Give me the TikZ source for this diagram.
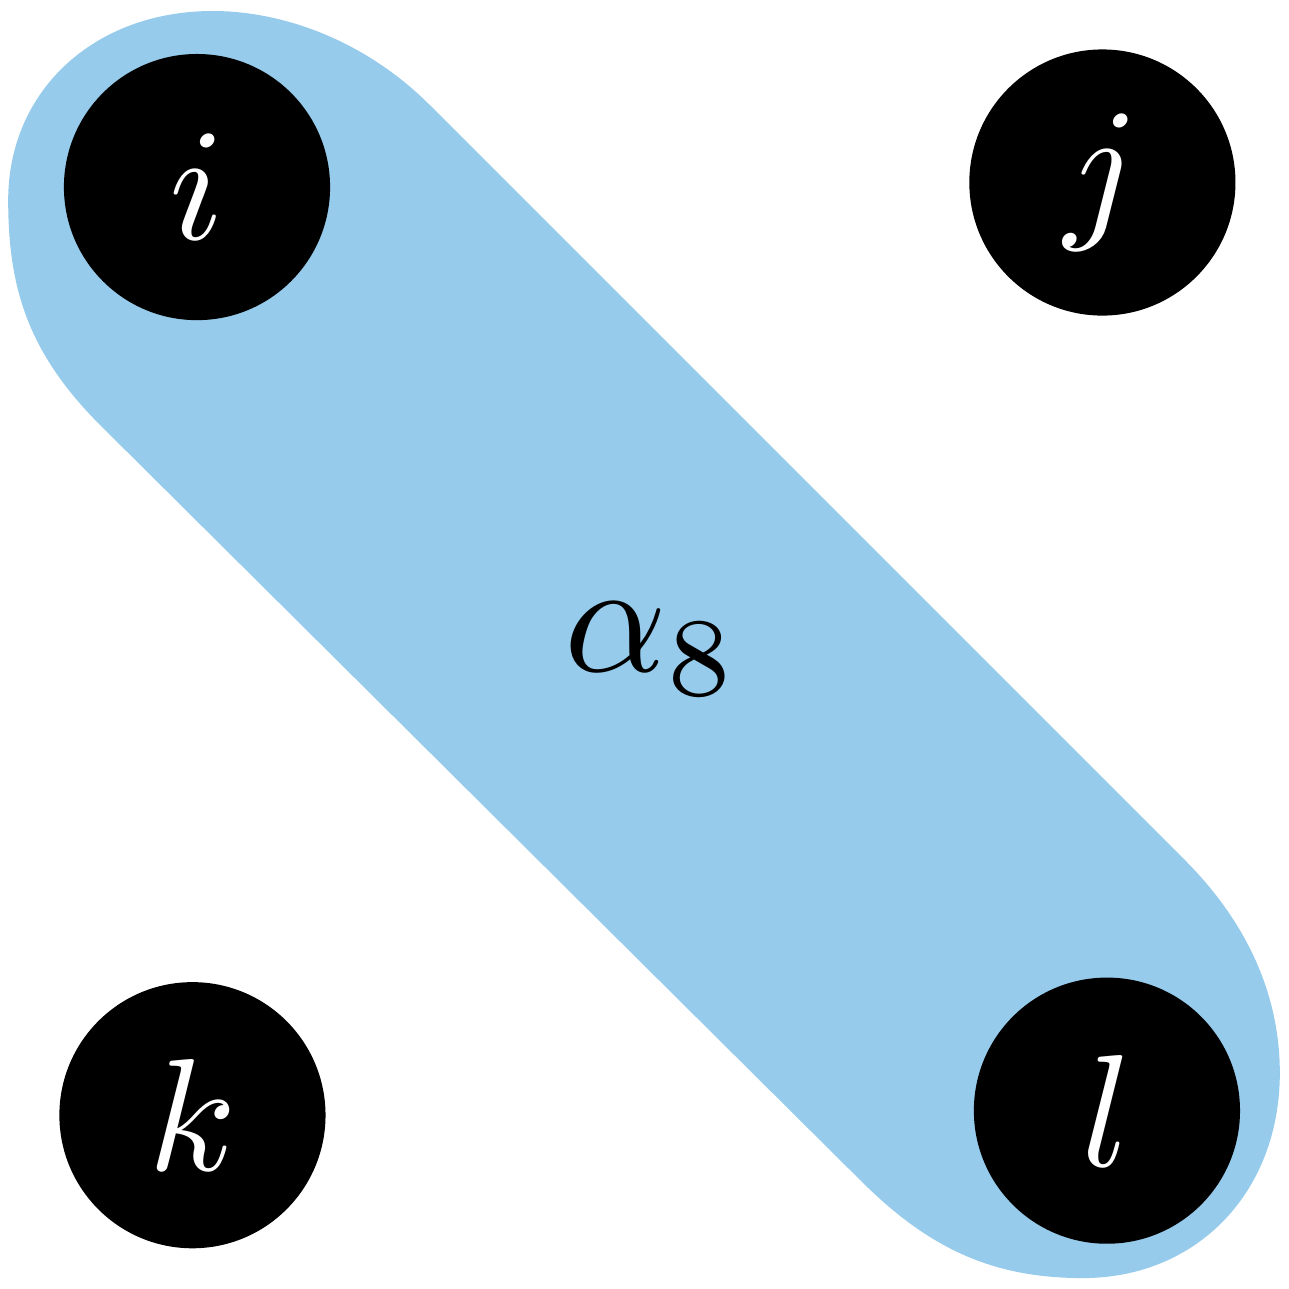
\documentclass[tikz,border=0pt]{standalone}
\usepackage{tikz}
\usetikzlibrary{arrows,shapes.geometric,calc}
\definecolor{hyperblue}{RGB}{150,203,235}
\tikzstyle{vertex} = [circle,fill=black,text=white,inner sep=0pt,minimum size=0.585cm]
\tikzstyle{edgelabel} = [align=center,text centered]

\begin{document}
\begin{tikzpicture}[node distance=2cm]
				\useasboundingbox (-0.433,0.411) rectangle (2.400,-2.422);
				% hyperedge around i and l
				\fill [hyperblue] (0.512,0.180) -- (2.171,-1.479)
					.. controls (2.301,-1.609) and (2.380,-1.767) .. (2.380,-1.947)
					.. controls (2.380,-2.209) and (2.198,-2.398) .. (1.947,-2.398)
					.. controls (1.747,-2.398) and (1.607,-2.332) .. (1.457,-2.182)
					-- (-0.213,-0.523)
					.. controls (-0.373,-0.363) and (-0.415,-0.219) .. (-0.415,-0.029)
					.. controls (-0.415,0.212) and (-0.226,0.387) .. (0.035,0.387)
					.. controls (0.185,0.387) and (0.367,0.325) .. cycle;
				\node (i) [vertex] at (0,0) {$i$};
				\node (j) [vertex] at (1.99,0.01) {$j$};
				\node (k) [vertex] at (-0.01,-2.04) {$k$};
				\node (l) [vertex] at (2,-2.03) {$l$};
				\node (a8) [edgelabel] at ($(i)!0.5!(l)$) {$\alpha_8$};
			\end{tikzpicture}
\end{document}
